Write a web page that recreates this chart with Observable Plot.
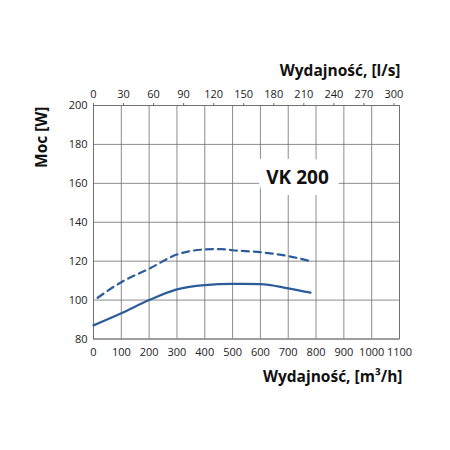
<!DOCTYPE html>
<html>
<head>
<meta charset="utf-8">
<script src="https://cdn.jsdelivr.net/npm/d3@7"></script>
<script src="https://cdn.jsdelivr.net/npm/@observablehq/plot@0.6"></script>
<style>
  html, body { margin: 0; padding: 0; background: #fff; }
  svg { display: block; }
</style>
</head>
<body>
<div id="chart"></div>
<script>
// Bottom axis ticks (m³/h)
const flowTicks = [0, 100, 200, 300, 400, 500, 600, 700, 800, 900, 1000, 1100];
// Top axis ticks (l/s)
const lsTicks = [0, 30, 60, 90, 120, 150, 180, 210, 240, 270, 300];
// Y axis ticks (W)
const powerTicks = [80, 100, 120, 140, 160, 180, 200];

// Solid curve (m³/h, W)
const solidFlow = [0, 100, 200, 300, 400, 500, 600, 700, 780];
const solidPower = [87, 93.2, 100, 105.5, 107.7, 108.3, 108.2, 106, 103.8];

// Dashed curve (m³/h, W)
const dashedFlow = [15, 100, 200, 300, 400, 460, 500, 600, 700, 780];
const dashedPower = [101.2, 109.2, 116.1, 123.4, 126, 126.2, 125.6, 124.6, 122.6, 120];

const modelLabel = ["VK 200"];
const xTitle = ["Wydajność, [m³/h]"];
const topTitle = ["Wydajność, [l/s]"];
const yTitle = ["Moc [W]"];

const solid = solidFlow.map((x, i) => ({x, y: solidPower[i]}));
const dashed = dashedFlow.map((x, i) => ({x, y: dashedPower[i]}));

const blue = "#2d5c9b";
const gridColor = "#6f6f6f";
const font = "'Open Sans', sans-serif";

const chart = Plot.plot({
  width: 450,
  height: 450,
  marginLeft: 93,
  marginRight: 51,
  marginTop: 105,
  marginBottom: 111.5,
  style: {fontFamily: font, fontSize: "11px", color: "#222", background: "#fff"},
  x: {domain: [0, 1100]},
  y: {domain: [80, 200]},
  marks: [
    Plot.gridX(flowTicks, {stroke: gridColor, strokeOpacity: 1, strokeWidth: 0.8}),
    Plot.gridY(powerTicks, {stroke: gridColor, strokeOpacity: 1, strokeWidth: 0.8}),
    Plot.frame({stroke: gridColor, strokeWidth: 0.9}),
    Plot.axisX(flowTicks, {anchor: "bottom", tickSize: 0, tickPadding: 9, label: null, fontSize: 11,
      tickFormat: d => String(d)}),
    Plot.axisX(lsTicks.map(v => v * 3.6), {anchor: "top", tickSize: 3, tickPadding: 5, label: null, fontSize: 11,
      stroke: gridColor, tickFormat: d => String(Math.round(d / 3.6))}),
    Plot.axisY(powerTicks, {anchor: "left", tickSize: 0, tickPadding: 6, label: null, fontSize: 11,
      tickFormat: d => String(d)}),
    Plot.line(dashed, {x: "x", y: "y", stroke: blue, strokeWidth: 2.2, strokeDasharray: "7,5", curve: "monotone-x"}),
    Plot.line(solid, {x: "x", y: "y", stroke: blue, strokeWidth: 2.2, curve: "monotone-x"}),
    Plot.text(modelLabel, {frameAnchor: "top-left", dx: 204, dy: 72, text: d => d, textAnchor: "middle", lineAnchor: "middle",
      fontSize: 19, fontWeight: "bold", fill: "#111", stroke: "white", strokeWidth: 22, strokeLinejoin: "miter"}),
    Plot.text(xTitle, {frameAnchor: "bottom-right", dx: 3, dy: 38.5, text: d => d, textAnchor: "end", lineAnchor: "middle",
      fontSize: 15.5, fontWeight: "bold", fill: "#111"}),
    Plot.text(topTitle, {frameAnchor: "top-right", dx: 1, dy: -34, text: d => d, textAnchor: "end", lineAnchor: "middle",
      fontSize: 15.5, fontWeight: "bold", fill: "#111"}),
    Plot.text(yTitle, {frameAnchor: "left", dx: -51, dy: -85, text: d => d, rotate: -90, textAnchor: "middle", lineAnchor: "middle",
      fontSize: 15.5, fontWeight: "bold", fill: "#111"})
  ]
});
document.getElementById("chart").appendChild(chart);
</script>
</body>
</html>
